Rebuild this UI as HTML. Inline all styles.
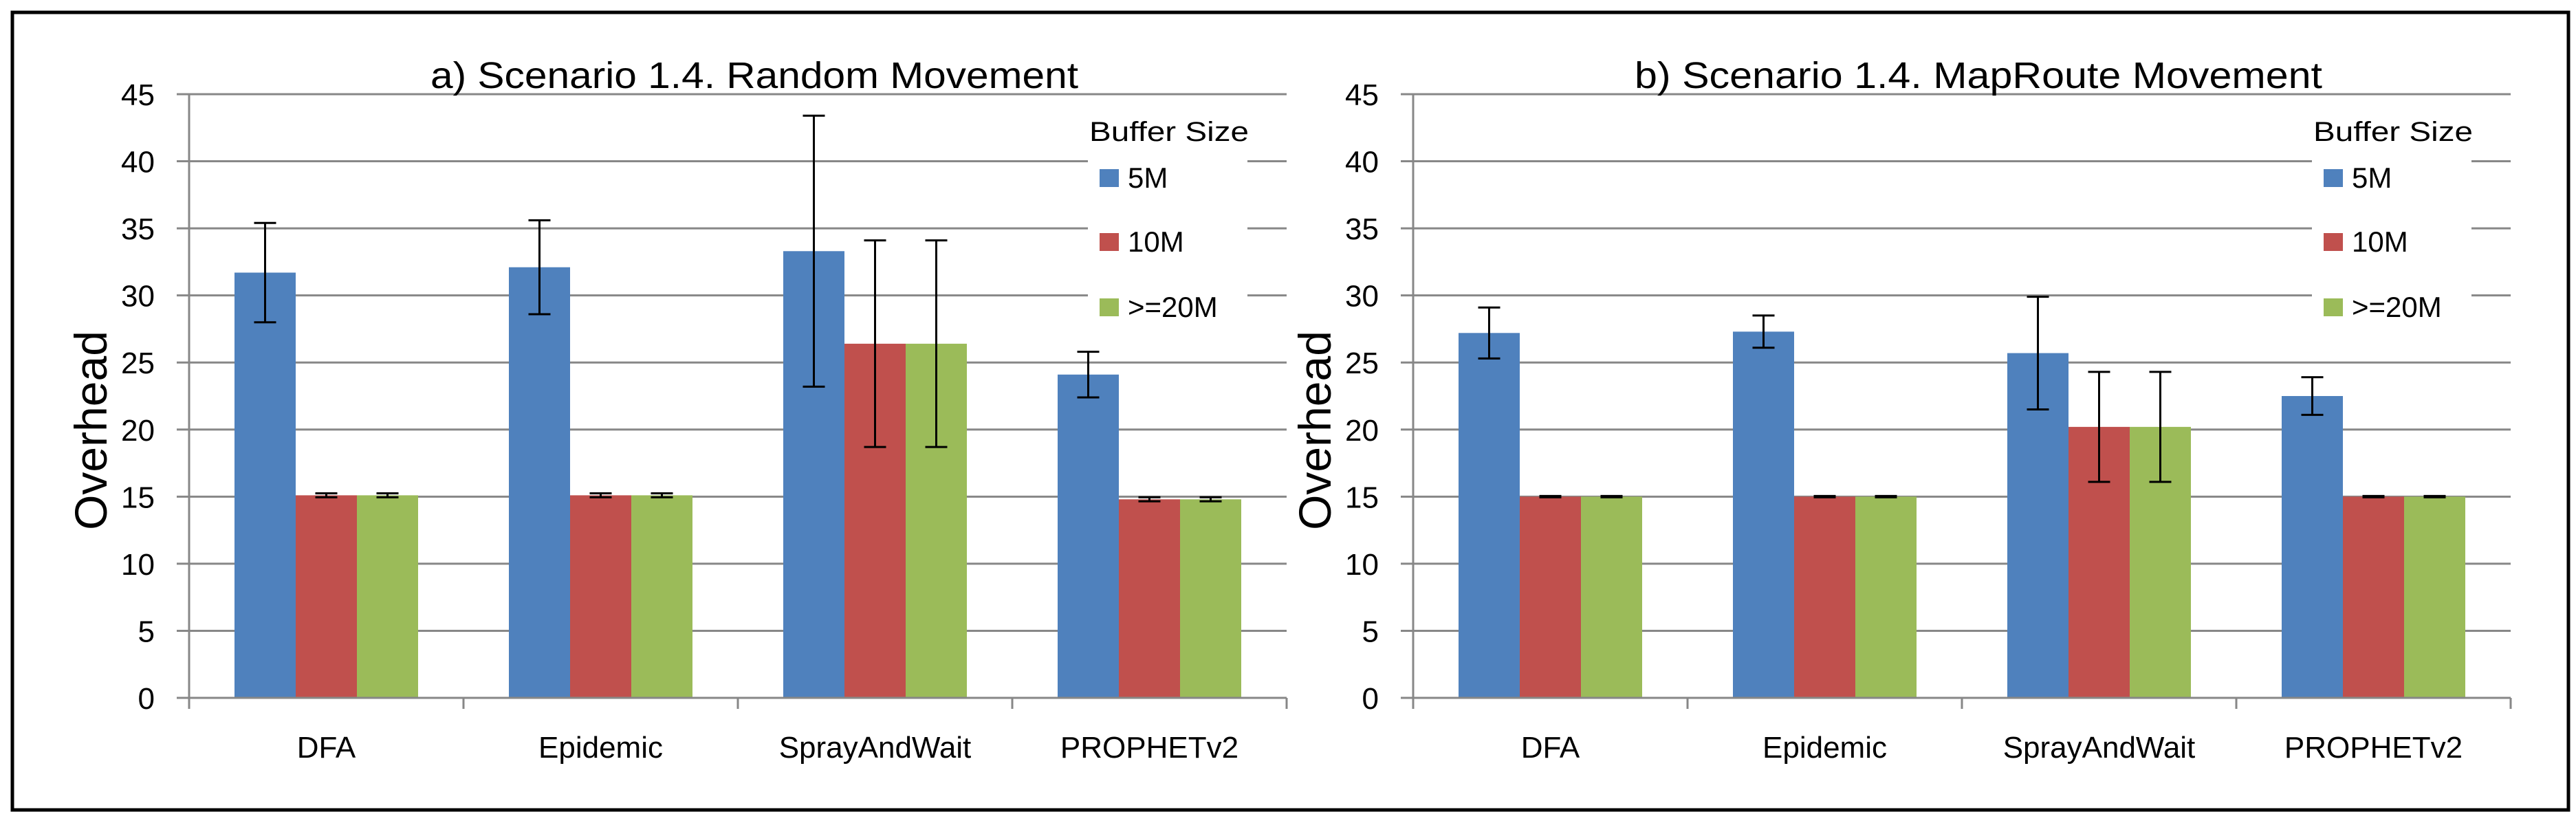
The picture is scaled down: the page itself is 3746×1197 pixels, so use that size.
<!DOCTYPE html>
<html><head><meta charset="utf-8"><style>
html,body{margin:0;padding:0;background:#fff;}
svg{display:block;font-family:"Liberation Sans",sans-serif;}
</style></head><body>
<svg id="chart" width="3746" height="1197" viewBox="0 0 3746 1197" xmlns="http://www.w3.org/2000/svg">
<rect x="18" y="18" width="3717" height="1160" fill="#fff" stroke="#000" stroke-width="5"/>
</svg>
<script>
const categories = ["DFA", "Epidemic", "SprayAndWait", "PROPHETv2"];
const seriesNames = ["5M", "10M", ">=20M"];
const yTicks = [0, 5, 10, 15, 20, 25, 30, 35, 40, 45];
const panelTitles = ["a) Scenario 1.4. Random Movement", "b) Scenario 1.4. MapRoute Movement"];
const randomValues5M = [31.7, 32.1, 33.3, 24.1];
const randomValues10M = [15.1, 15.1, 26.4, 14.8];
const randomValues20M = [15.1, 15.1, 26.4, 14.8];
const randomErr5M = [3.7, 3.5, 10.1, 1.7];
const randomErr10M = [0.15, 0.15, 7.7, 0.15];
const randomErr20M = [0.15, 0.15, 7.7, 0.15];
const mapValues5M = [27.2, 27.3, 25.7, 22.5];
const mapValues10M = [15.0, 15.0, 20.2, 15.0];
const mapValues20M = [15.0, 15.0, 20.2, 15.0];
const mapErr5M = [1.9, 1.2, 4.2, 1.4];
const mapErr10M = [0.05, 0.05, 4.1, 0.05];
const mapErr20M = [0.05, 0.05, 4.1, 0.05];

const colors = ["#4F81BD", "#C0504D", "#9BBB59"];
const svg = document.getElementById('chart');
const NS = "http://www.w3.org/2000/svg";
function mk(tag, attrs, parent) {
  const e = document.createElementNS(NS, tag);
  for (const k in attrs) e.setAttribute(k, attrs[k]);
  (parent || svg).appendChild(e);
  return e;
}
function drawPanel(pi, x0, values, errs) {
  const g = mk('g', {});
  
  
  const yBottom = 1015, yTop = 137, yMax = 45;
  const plotW = 1596;
  const y = v => yBottom - (v / yMax) * (yBottom - yTop);
  const catW = plotW / categories.length;
  const barW = 89;
  // gridlines and tick labels
  yTicks.forEach(t => {
    const gl = mk('line', {x1: x0 - 18, x2: x0 + plotW, y1: y(t), y2: y(t), stroke: '#878787', 'stroke-width': 3}, g);
    
    
    const tl = mk('text', {x: x0 - 50, y: y(t) + 16, 'font-size': 44, 'text-anchor': 'end', fill: '#000'}, g);
    tl.textContent = t;
    
    
  });
  // y axis
  const ya = mk('line', {x1: x0, x2: x0, y1: yTop, y2: yBottom + 16, stroke: '#878787', 'stroke-width': 3}, g);
  
  
  for (let k = 1; k <= categories.length; k++) {
    const tk = mk('line', {x1: x0 + k * catW, x2: x0 + k * catW, y1: yBottom, y2: yBottom + 16, stroke: '#878787', 'stroke-width': 3}, g);
    
    
  }
  // legend background
  const lx = x0 + 1307;
  const lb = mk('rect', {x: lx, y: 160, width: 232, height: 320, fill: '#fff'}, g);
  
  
  // bars
  categories.forEach((c, ci) => {
    const gx = x0 + ci * catW + (catW - 3 * barW) / 2;
    values.forEach((ser, si) => {
      const v = ser[ci], e = errs[si][ci];
      const bx = gx + si * barW;
      const r = mk('rect', {x: bx, y: y(v), width: barW, height: yBottom - y(v) - 1.5, fill: colors[si]}, g);
      
      
      const cx = bx + barW / 2;
      const eg = mk('g', {stroke: '#000', 'stroke-width': 3}, g);
      
      
      mk('line', {x1: cx, x2: cx, y1: y(v + e), y2: y(v - e)}, eg);
      mk('line', {x1: cx - 16, x2: cx + 16, y1: y(v + e), y2: y(v + e)}, eg);
      mk('line', {x1: cx - 16, x2: cx + 16, y1: y(v - e), y2: y(v - e)}, eg);
    });
    const cl = mk('text', {x: x0 + (ci + 0.5) * catW, y: 1102, 'font-size': 44, 'text-anchor': 'middle', fill: '#000'}, g);
    cl.textContent = c;
    
    
  });
  // title
  const tt = mk('text', {x: x0 + 822, y: 128, 'font-size': 54, 'text-anchor': 'middle', fill: '#000', textLength: pi === 0 ? 942 : 1000, lengthAdjust: 'spacingAndGlyphs'}, g);
  tt.textContent = panelTitles[pi];
  
  
  // y title
  const yt = mk('text', {x: 0, y: 0, 'font-size': 66, 'text-anchor': 'middle', fill: '#000', transform: `translate(${x0 - 120},626) rotate(-90)`}, g);
  yt.textContent = 'Overhead';
  
  
  // legend
  const lt = mk('text', {x: lx + 118, y: 205, 'font-size': 40, 'text-anchor': 'middle', fill: '#000', textLength: 232, lengthAdjust: 'spacingAndGlyphs'}, g);
  lt.textContent = 'Buffer Size';
  
  
  const ly = [246, 339, 434];
  seriesNames.forEach((n, si) => {
    const le = mk('g', {}, g);
    
    
    mk('rect', {x: lx + 17, y: ly[si], width: 28, height: 26, fill: colors[si]}, le);
    const t = mk('text', {x: lx + 58, y: ly[si] + 27, 'font-size': 42, fill: '#000'}, le);
    t.textContent = n;
  });
}
drawPanel(0, 275, [randomValues5M, randomValues10M, randomValues20M], [randomErr5M, randomErr10M, randomErr20M]);
drawPanel(1, 2055, [mapValues5M, mapValues10M, mapValues20M], [mapErr5M, mapErr10M, mapErr20M]);
</script>
</body></html>
